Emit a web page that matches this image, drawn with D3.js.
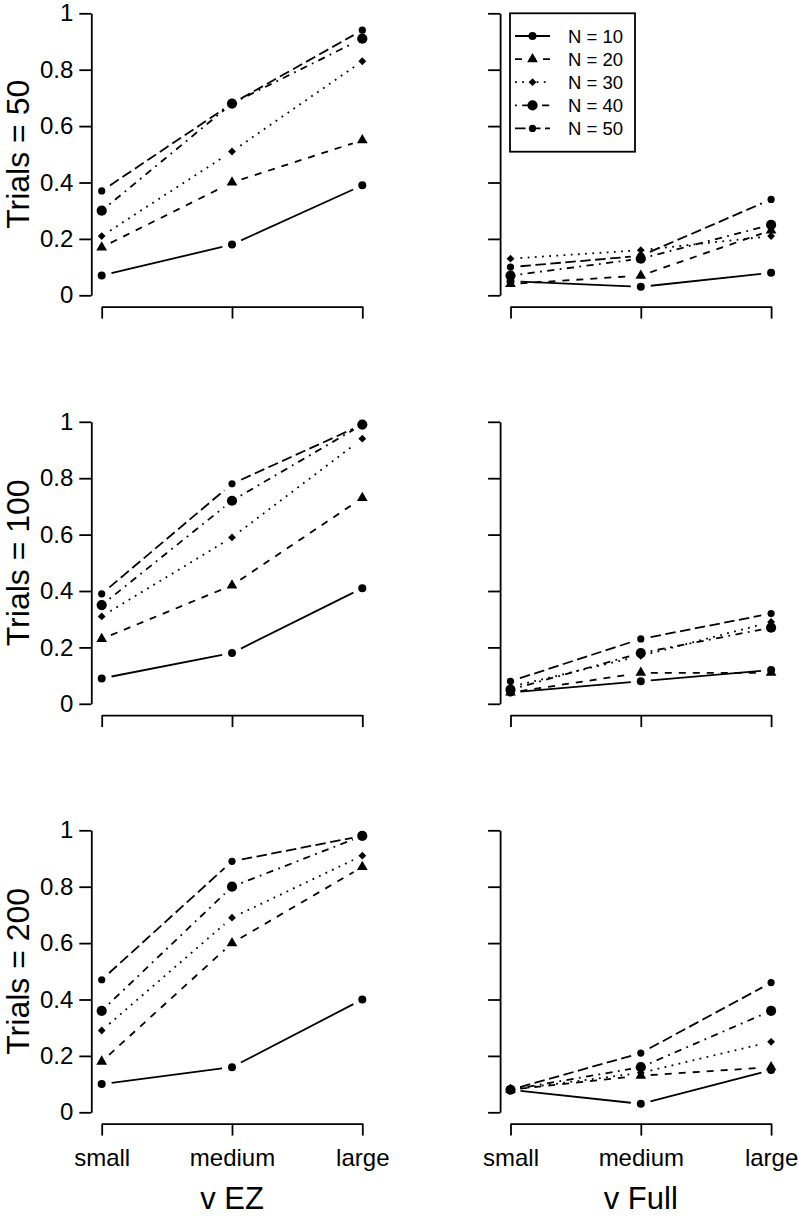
<!DOCTYPE html>
<html>
<head>
<meta charset="utf-8">
<script src="https://cdn.jsdelivr.net/npm/d3@7"></script>
<style>
  html, body { margin: 0; padding: 0; background: #fff; }
  svg { display: block; font-family: "Liberation Sans", Arial, Helvetica, sans-serif; }
</style>
</head>
<body>
<script>
// ---------- data ----------
const categories = ["small", "medium", "large"];
const nLevels = [10, 20, 30, 40, 50];
const seriesLabels = ["N = 10", "N = 20", "N = 30", "N = 40", "N = 50"];
const trialLevels = [50, 100, 200];
const colTitles = ["v EZ", "v Full"];
const yTicks = [0, 0.2, 0.4, 0.6, 0.8, 1];

// each array: one row per N (10,20,30,40,50), values for small, medium, large
const ezTrials50 = [
  [0.07, 0.18, 0.39],
  [0.17, 0.40, 0.55],
  [0.21, 0.51, 0.83],
  [0.30, 0.68, 0.91],
  [0.37, 0.68, 0.94]
];
const fullTrials50 = [
  [0.05, 0.03, 0.08],
  [0.04, 0.07, 0.23],
  [0.13, 0.16, 0.21],
  [0.07, 0.13, 0.25],
  [0.10, 0.14, 0.34]
];
const ezTrials100 = [
  [0.09, 0.18, 0.41],
  [0.23, 0.42, 0.73],
  [0.31, 0.59, 0.94],
  [0.35, 0.72, 0.99],
  [0.39, 0.78, 0.99]
];
const fullTrials100 = [
  [0.04, 0.08, 0.12],
  [0.04, 0.11, 0.11],
  [0.06, 0.17, 0.29],
  [0.05, 0.18, 0.27],
  [0.08, 0.23, 0.32]
];
const ezTrials200 = [
  [0.10, 0.16, 0.40],
  [0.18, 0.60, 0.87],
  [0.29, 0.69, 0.91],
  [0.36, 0.80, 0.98],
  [0.47, 0.89, 0.98]
];
const fullTrials200 = [
  [0.08, 0.03, 0.15],
  [0.08, 0.13, 0.16],
  [0.08, 0.14, 0.25],
  [0.08, 0.16, 0.36],
  [0.08, 0.21, 0.46]
];
const panels = [
  [ezTrials50, fullTrials50],
  [ezTrials100, fullTrials100],
  [ezTrials200, fullTrials200]
];

// ---------- styles ----------
const dashes = [null, "7,7", "1.8,5.4", "1.8,5.4,7.2,5.4", "10.5,4.5"];
const shapes = ["dot", "tri", "diamond", "bigdot", "smalldot"];
const LW = 1.8;

// ---------- layout ----------
const W = 799, H = 1217;
const colX = [[101.7, 362.3], [510.5, 771.1]];
const axisXPos = [91.3, 500.1];
const rowTop0 = 13.3, rowStep = 408.5, plotH = 282;

const svg = d3.select("body").append("svg").attr("width", W).attr("height", H);
svg.append("rect").attr("width", W).attr("height", H).attr("fill", "#fff");

function drawSymbol(g, kind, cx, cy) {
  if (kind === "dot") g.append("circle").attr("cx", cx).attr("cy", cy).attr("r", 4).attr("fill", "#000");
  else if (kind === "bigdot") g.append("circle").attr("cx", cx).attr("cy", cy).attr("r", 5.1).attr("fill", "#000");
  else if (kind === "smalldot") g.append("circle").attr("cx", cx).attr("cy", cy).attr("r", 3.6).attr("fill", "#000");
  else if (kind === "tri") {
    const s = 3.97, r = 1.555 * s, xc = 1.347 * s, yc = 0.778 * s;
    g.append("path").attr("d", `M${cx},${cy - r}L${cx + xc},${cy + yc}L${cx - xc},${cy + yc}Z`).attr("fill", "#000");
  } else if (kind === "diamond") {
    const a = 3.9;
    g.append("path").attr("d", `M${cx},${cy - a}L${cx + a},${cy}L${cx},${cy + a}L${cx - a},${cy}Z`).attr("fill", "#000");
  }
}

const GAP = 10;

panels.forEach((rowPanels, ri) => {
  const top = rowTop0 + ri * rowStep;
  const y = d3.scaleLinear().domain([0, 1]).range([top + plotH, top]);
  const xAxisY = top + plotH + 11.3;

  rowPanels.forEach((data, ci) => {
    const x = d3.scalePoint().domain(categories).range(colX[ci]).padding(0);
    const g = svg.append("g");

    // y axis
    const ya = g.append("g").attr("transform", `translate(${axisXPos[ci]},0)`)
      .call(d3.axisLeft(y).tickValues(yTicks).tickSize(12).tickSizeOuter(0).tickPadding(6)
        .tickFormat(ci === 0 ? d3.format("~g") : () => ""));
    ya.selectAll("path,line").attr("stroke", "#000").attr("stroke-width", LW);
    ya.selectAll("text").attr("font-size", 24).attr("fill", "#000")
      .attr("font-family", "'Liberation Sans', Arial, sans-serif");

    // x axis
    const xa = g.append("g").attr("transform", `translate(0,${xAxisY})`)
      .call(d3.axisBottom(x).tickSize(12).tickSizeOuter(0));
    xa.selectAll("path,line").attr("stroke", "#000").attr("stroke-width", LW);
    if (ri === 2) {
      xa.selectAll("text").attr("font-size", 24).attr("fill", "#000").attr("y", 42).attr("dy", null)
        .attr("font-family", "'Liberation Sans', Arial, sans-serif");
    } else {
      xa.selectAll("text").remove();
    }

    // series: lines (type="b" with gaps), then points
    data.forEach((vals, si) => {
      const pts = vals.map((v, k) => [x(categories[k]), y(v)]);
      for (let k = 0; k < pts.length - 1; k++) {
        const [x1, y1] = pts[k], [x2, y2] = pts[k + 1];
        const dx = x2 - x1, dy = y2 - y1, len = Math.hypot(dx, dy);
        if (len <= 2 * GAP) continue;
        const ux = dx / len, uy = dy / len;
        const line = g.append("line")
          .attr("x1", x1 + ux * GAP).attr("y1", y1 + uy * GAP)
          .attr("x2", x2 - ux * GAP).attr("y2", y2 - uy * GAP)
          .attr("stroke", "#000").attr("stroke-width", LW).attr("fill", "none");
        if (dashes[si]) line.attr("stroke-dasharray", dashes[si]);
      }
      pts.forEach(([px, py]) => drawSymbol(g, shapes[si], px, py));
    });

    // column title
    if (ri === 2) {
      svg.append("text").attr("x", (colX[ci][0] + colX[ci][1]) / 2).attr("y", 1209)
        .attr("text-anchor", "middle").attr("font-size", 31).attr("fill", "#000")
        .text(colTitles[ci]);
    }
  });

  // row title
  svg.append("text")
    .attr("transform", `translate(28.5,${top + plotH / 2}) rotate(-90)`)
    .attr("text-anchor", "middle").attr("font-size", 32).attr("fill", "#000")
    .text(`Trials = ${trialLevels[ri]}`);
});

// ---------- legend ----------
const lg = svg.append("g");
lg.append("rect").attr("x", 510).attr("y", 13.3).attr("width", 125).attr("height", 138.4)
  .attr("fill", "#fff").attr("stroke", "#000").attr("stroke-width", LW);
seriesLabels.forEach((lab, si) => {
  const ly = 36 + si * 23.1;
  const l = lg.append("line").attr("x1", 515).attr("x2", 550).attr("y1", ly).attr("y2", ly)
    .attr("stroke", "#000").attr("stroke-width", LW);
  if (dashes[si]) l.attr("stroke-dasharray", dashes[si]);
  drawSymbol(lg, shapes[si], 532.5, ly);
  lg.append("text").attr("x", 568).attr("y", ly).attr("dy", "0.36em")
    .attr("font-size", 18.5).attr("fill", "#000").text(lab);
});
</script>
</body>
</html>
